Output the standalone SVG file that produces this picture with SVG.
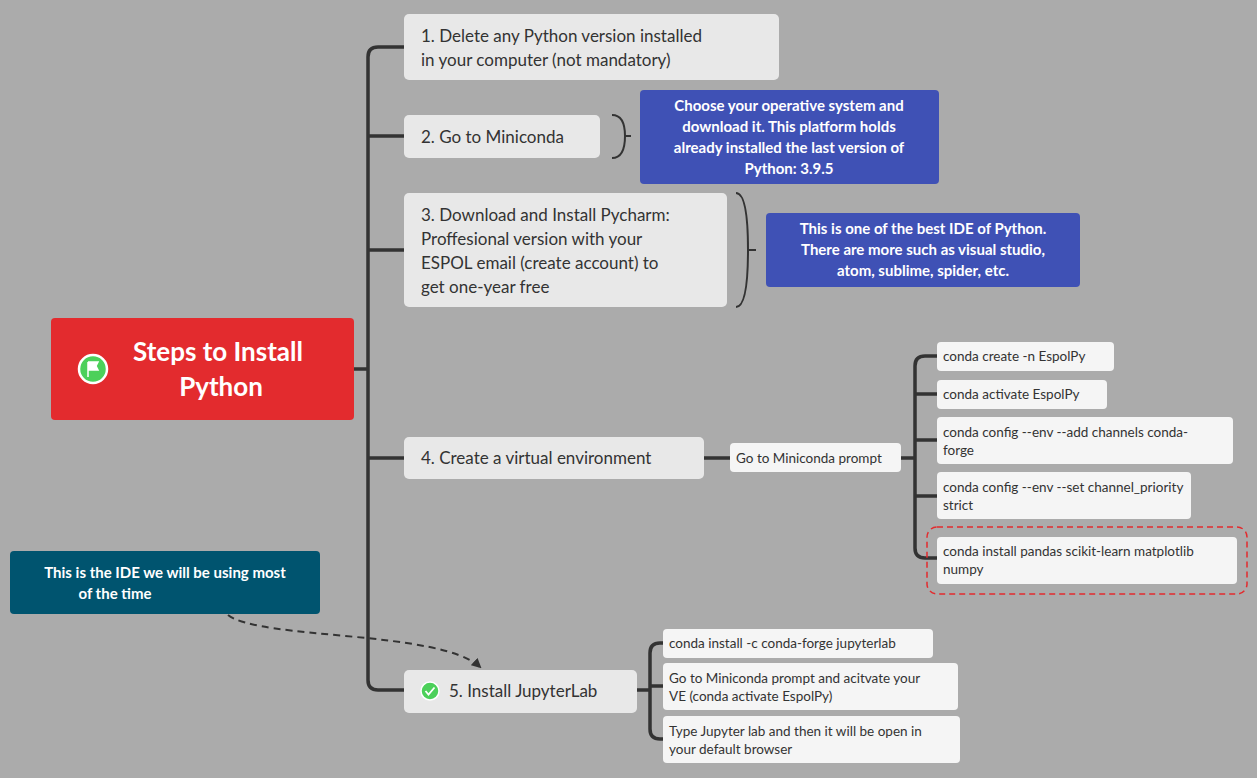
<svg xmlns="http://www.w3.org/2000/svg" width="1257" height="778" viewBox="0 0 1257 778">
<style>
.b{fill:#e8e8e8}
.t{font-family:"Lato","Liberation Sans",sans-serif;font-size:17px;fill:#333}
.l{fill:#f5f5f5}
.s{font-family:"Lato","Liberation Sans",sans-serif;font-size:13.5px;fill:#333}
.c{font-family:"Lato","Liberation Sans",sans-serif;font-size:15px;font-weight:bold;fill:#fff;text-anchor:middle}
.k{fill:none;stroke:#333;stroke-width:3.5;stroke-linecap:round}
</style>
<defs><marker id="ar" markerWidth="10" markerHeight="10" refX="8" refY="5" orient="auto" markerUnits="userSpaceOnUse"><path d="M0 0L10 5L0 10z" fill="#333"/></marker></defs>
<rect width="1257" height="778" fill="#ababab"/>
<g id="connectors">
<path class="k" d="M354 369H368M404 47H378Q368 47 368 57V680Q368 690 378 690H404M368 136H404M368 250H404M368 458H404"/>
<path class="k" d="M704 458H730M901 458H915M937 356H925Q915 356 915 366V548Q915 558 925 558H937M915 394H937M915 440H937M915 496H937"/>
<path class="k" d="M637 690H650M663 643H660Q650 643 650 653V729Q650 739 660 739H663M650 686H663"/>
<path fill="none" stroke="#333" stroke-width="2" d="M612 115Q625 115 625 136Q625 158 612 158M625 136H631"/>
<path fill="none" stroke="#333" stroke-width="2" d="M736 193Q748 193 748 250Q748 307 736 307M748 250H756"/>
<path fill="none" stroke="#333" stroke-width="2" stroke-dasharray="7 5" d="M228 615C260 640 440 630 480 667" marker-end="url(#ar)"/>
</g>
<g id="root"><rect x="51" y="318" width="303" height="102" rx="4" fill="#e32b2e"/>
<circle cx="93" cy="369" r="14" fill="#4cd05a" stroke="#fff" stroke-width="2.5"/><path d="M88 362V377M88 362H98L96 366L98 370H88" fill="#fff" stroke="#fff" stroke-width="1.5"/>
<text font-family="Lato,'Liberation Sans',sans-serif" font-weight="bold" font-size="26" fill="#fff" text-anchor="middle"><tspan x="218" y="361">Steps to Install</tspan><tspan x="221" y="396">Python</tspan></text></g>
<g id="n1"><rect class="b" x="404" y="14" width="375" height="66" rx="5"/><text class="t"><tspan x="421" y="42">1. Delete any Python version installed</tspan><tspan x="421" y="66">in your computer (not mandatory)</tspan></text></g>
<g id="n2"><rect class="b" x="404" y="115" width="196" height="43" rx="5"/><text class="t" x="421" y="143">2. Go to Miniconda</text></g>
<g id="c1"><rect x="640" y="90" width="299" height="94" rx="4" fill="#3f51b5"/><text class="c"><tspan x="789" y="111">Choose your operative system and</tspan><tspan x="789" y="132">download it. This platform holds</tspan><tspan x="789" y="153">already installed the last version of</tspan><tspan x="789" y="174">Python: 3.9.5</tspan></text></g>
<g id="n3"><rect class="b" x="404" y="193" width="323" height="114" rx="5"/><text class="t"><tspan x="421" y="221">3. Download and Install Pycharm:</tspan><tspan x="421" y="245">Proffesional version with your</tspan><tspan x="421" y="269">ESPOL email (create account) to</tspan><tspan x="421" y="293">get one-year free</tspan></text></g>
<g id="c2"><rect x="766" y="213" width="314" height="74" rx="4" fill="#3f51b5"/><text class="c"><tspan x="923" y="234">This is one of the best IDE of Python.</tspan><tspan x="923" y="255">There are more such as visual studio,</tspan><tspan x="923" y="276">atom, sublime, spider, etc.</tspan></text></g>
<g id="n4"><rect class="b" x="404" y="437" width="300" height="42" rx="5"/><text class="t" x="421" y="464">4. Create a virtual environment</text></g>
<g id="p"><rect class="l" x="730" y="443" width="171" height="29" rx="4"/><text class="s" x="736" y="463">Go to Miniconda prompt</text></g>
<g id="a1"><rect class="l" x="937" y="342" width="177" height="29" rx="4"/><text class="s" x="943" y="361">conda create -n EspolPy</text></g>
<g id="a2"><rect class="l" x="937" y="380" width="170" height="29" rx="4"/><text class="s" x="943" y="399">conda activate EspolPy</text></g>
<g id="a3"><rect class="l" x="937" y="417" width="296" height="47" rx="4"/><text class="s"><tspan x="943" y="437">conda config --env --add channels conda-</tspan><tspan x="943" y="455">forge</tspan></text></g>
<g id="a4"><rect class="l" x="937" y="472" width="254" height="47" rx="4"/><text class="s"><tspan x="943" y="492">conda config --env --set channel_priority</tspan><tspan x="943" y="510">strict</tspan></text></g>
<g id="a5"><rect x="927" y="527" width="320" height="67" rx="10" fill="none" stroke="#e32b2e" stroke-width="1.5" stroke-dasharray="6 4"/><rect class="l" x="937" y="537" width="300" height="47" rx="4"/><text class="s"><tspan x="943" y="556">conda install pandas scikit-learn matplotlib</tspan><tspan x="943" y="574">numpy</tspan></text></g>
<g id="note"><rect x="10" y="551" width="310" height="63" rx="4" fill="#00546f"/><text class="c"><tspan x="165" y="578">This is the IDE we will be using most</tspan><tspan x="115" y="599">of the time</tspan></text></g>
<g id="n5"><rect class="b" x="404" y="670" width="233" height="43" rx="5"/><circle cx="430" cy="691" r="9" fill="#4cd05a" stroke="#fff" stroke-width="1.5"/><path d="M425.5 691L428.5 694.5L434.5 687.5" fill="none" stroke="#fff" stroke-width="1.8"/><text class="t" x="449" y="697">5. Install JupyterLab</text></g>
<g id="j1"><rect class="l" x="663" y="629" width="270" height="29" rx="4"/><text class="s" x="669" y="648">conda install -c conda-forge jupyterlab</text></g>
<g id="j2"><rect class="l" x="663" y="663" width="295" height="47" rx="4"/><text class="s"><tspan x="669" y="683">Go to Miniconda prompt and acitvate your</tspan><tspan x="669" y="701">VE (conda activate EspolPy)</tspan></text></g>
<g id="j3"><rect class="l" x="663" y="716" width="297" height="47" rx="4"/><text class="s"><tspan x="669" y="736">Type Jupyter lab and then it will be open in</tspan><tspan x="669" y="754">your default browser</tspan></text></g>
</svg>
